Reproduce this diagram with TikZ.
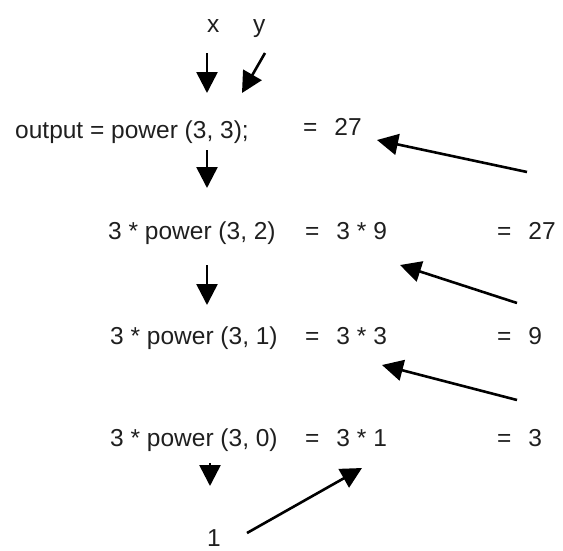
\documentclass[tikz,border=0pt]{standalone}
\usepackage{fontspec}
\setmainfont{Liberation Sans}
\usetikzlibrary{arrows.meta}
\begin{document}
\begin{tikzpicture}[x=1pt,y=-1pt,
  txt/.style={inner sep=0pt,anchor=base west,font=\fontsize{24.5}{28}\selectfont,text=black!88},
  arr/.style={line width=2.6pt,-{Triangle[length=21pt,width=21pt]}}]
\useasboundingbox (0,0) rectangle (563,550);
% top labels
\node[txt] (xl) at (207,32) {x};
\node[txt] (yl) at (253,32) {y};
% rows
\node[txt] (r1) at (15,138) {output = power (3, 3);};
\node[txt] (r1v) at (303,135) {=\hspace{17pt}27};
\node[txt] (r2) at (108,239) {3 * power (3, 2)};
\node[txt] (r2v) at (305,239) {=\hspace{17pt}3 * 9};
\node[txt] (r2r) at (497,239) {=\hspace{17pt}27};
\node[txt] (r3) at (110,344) {3 * power (3, 1)};
\node[txt] (r3v) at (305,344) {=\hspace{17pt}3 * 3};
\node[txt] (r3r) at (497,344) {=\hspace{17pt}9};
\node[txt] (r4) at (110,446) {3 * power (3, 0)};
\node[txt] (r4v) at (305,446) {=\hspace{17pt}3 * 1};
\node[txt] (r4r) at (497,446) {=\hspace{17pt}3};
\node[txt] (one) at (207,546) {1};
% arrow end points
\coordinate (xa) at (207,53);  \coordinate (xb) at (207,93);
\coordinate (ya) at (265,53);  \coordinate (yb) at (242,93);
\coordinate (d1a) at (207,150); \coordinate (d1b) at (207,188);
\coordinate (d2a) at (207,265); \coordinate (d2b) at (207,305);
\coordinate (d3a) at (210,463); \coordinate (d3b) at (210,486);
\coordinate (t1) at (527,172);  \coordinate (h1) at (377,140);
\coordinate (t2) at (517,303);  \coordinate (h2) at (400,265);
\coordinate (t3) at (517,400);  \coordinate (h3) at (382,365);
\coordinate (t4) at (247,533);  \coordinate (h4) at (362,468);
\draw[arr] (xa) -- (xb);
\draw[arr] (ya) -- (yb);
\draw[arr] (d1a) -- (d1b);
\draw[arr] (d2a) -- (d2b);
\draw[arr] (d3a) -- (d3b);
\draw[arr] (t1) -- (h1);
\draw[arr] (t2) -- (h2);
\draw[arr] (t3) -- (h3);
\draw[arr] (t4) -- (h4);
\end{tikzpicture}
\end{document}
